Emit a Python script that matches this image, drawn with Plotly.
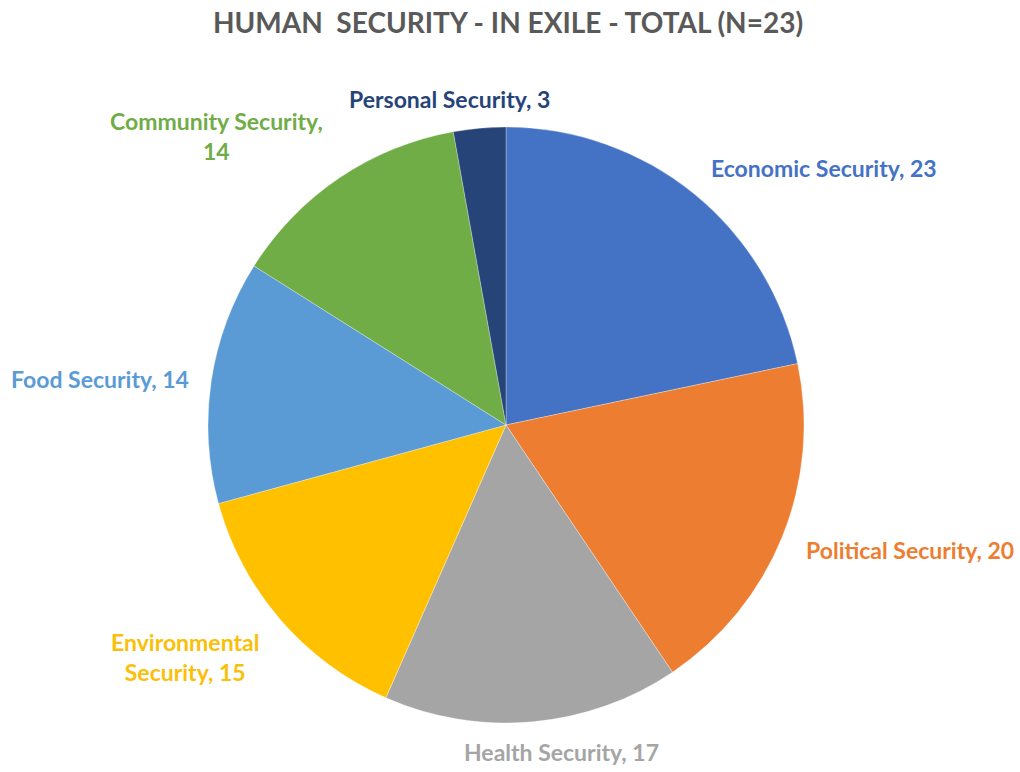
import plotly.graph_objects as go

# Categories and counts (clockwise from 12 o'clock)
categories = ["Economic Security", "Political Security", "Health Security",
              "Environmental Security", "Food Security", "Community Security",
              "Personal Security"]
counts = [23, 20, 17, 15, 14, 14, 3]

# Slice colours (Office palette)
colors = ["#4472C4", "#ED7D31", "#A5A5A5", "#FFC000", "#5B9BD5", "#70AD47", "#264478"]
label_colors = ["#4472C4", "#ED7D31", "#A5A5A5", "#FBBF08", "#5B9BD5", "#70AD47", "#264478"]

# Label text layout (line breaks) and label anchor positions in paper space
label_lines = [
    ["Economic Security, {v}"],
    ["Political Security, {v}"],
    ["Health Security, {v}"],
    ["Environmental", "Security, {v}"],
    ["Food Security, {v}"],
    ["Community Security,", "{v}"],
    ["Personal Security, {v}"],
]
label_pos = [(824, 168), (910, 550), (561, 752), (185, 657), (100, 379), (216, 136), (449, 99)]

W, H = 1020, 772
cx, cy, r = 506, 425, 298

fig = go.Figure()
fig.add_trace(go.Pie(
    labels=categories,
    values=counts,
    sort=False,
    direction="clockwise",
    rotation=0,
    marker=dict(colors=colors, line=dict(color="rgba(255,255,255,0.5)", width=0.6)),
    textinfo="none",
    hoverinfo="label+value",
    showlegend=False,
    domain=dict(x=[(cx - r) / W, (cx + r) / W], y=[(H - cy - r) / H, (H - cy + r) / H]),
))

font_family = "Lato, 'Open Sans', sans-serif"
for lines, v, col, (px, py) in zip(label_lines, counts, label_colors, label_pos):
    text = "<br>".join(line.format(v=v) for line in lines)
    fig.add_annotation(
        x=px / W, y=1 - py / H, xref="paper", yref="paper",
        text=f"<b>{text}</b>", showarrow=False,
        xanchor="center", yanchor="middle", align="center",
        font=dict(family=font_family, size=23, color=col),
    )

fig.update_layout(
    width=W, height=H,
    margin=dict(l=0, r=0, t=0, b=0),
    paper_bgcolor="white",
    plot_bgcolor="white",
    title=dict(
        text="<b>HUMAN  SECURITY - IN EXILE - TOTAL (N=23)</b>",
        x=508 / W, xanchor="center", y=1 - 23 / H, yanchor="middle",
        font=dict(family=font_family, size=28, color="#595959"),
    ),
)

fig.write_html("out.html")
